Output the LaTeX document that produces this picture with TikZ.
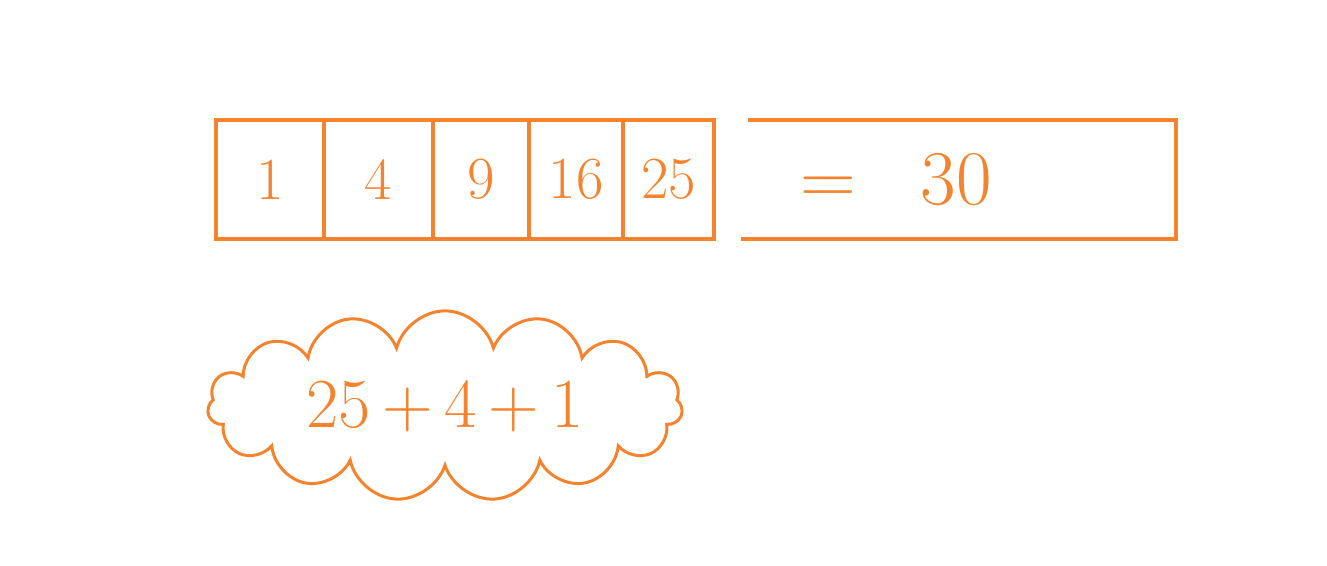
\documentclass[tikz,border=0pt]{standalone}
\usepackage{xcolor}
\usepackage{tikz}
\usetikzlibrary{shapes.symbols, positioning}

\definecolor{sketch}{RGB}{245,130,45}
\tikzset{
  cell/.style={draw=sketch, line width=2.3pt, rectangle, minimum height=2.38cm,
    inner sep=0pt, text=sketch, font=\fontsize{34}{38}\selectfont},
  hand/.style={text=sketch, inner sep=0pt, font=\fontsize{40}{44}\selectfont}
}

\begin{document}
\begin{tikzpicture}[x=0.02cm, y=-0.02cm]
        \useasboundingbox (0,0) rectangle (1327,565);
        % Vetor de quadrados
        \node[cell, minimum width=2.16cm] (c1) at (270,179.5) {1};
        \node[cell, minimum width=2.18cm] (c2) at (378.5,179.5) {4};
        \node[cell, minimum width=1.92cm] (c3) at (481,179.5) {9};
        \node[cell, minimum width=1.88cm] (c4) at (576,179.5) {16};
        \node[cell, minimum width=1.82cm] (c5) at (668.5,179.5) {25};

        % Caixa do total (sem lado esquerdo)
        \node[rectangle, minimum width=8.7cm, minimum height=2.38cm, inner sep=0pt] (box) at (958.5,179.5) {};
        \node[hand, font=\fontsize{44}{48}\selectfont] (total) at (896,180) {=\hspace{1.3cm}30};
        \draw[sketch, line width=2.3pt] ([xshift=0.14cm]box.north west) -- (box.north east)
            -- (box.south east) -- (box.south west);

        % Nuvem com a soma
        \node[cloud, draw=sketch, line width=1.7pt, cloud puffs=15, aspect=3,
              minimum width=9.5cm, minimum height=3.1cm, hand] (sum) at (445,406) {25\,+\,4\,+\,1};
    \end{tikzpicture}
\end{document}
